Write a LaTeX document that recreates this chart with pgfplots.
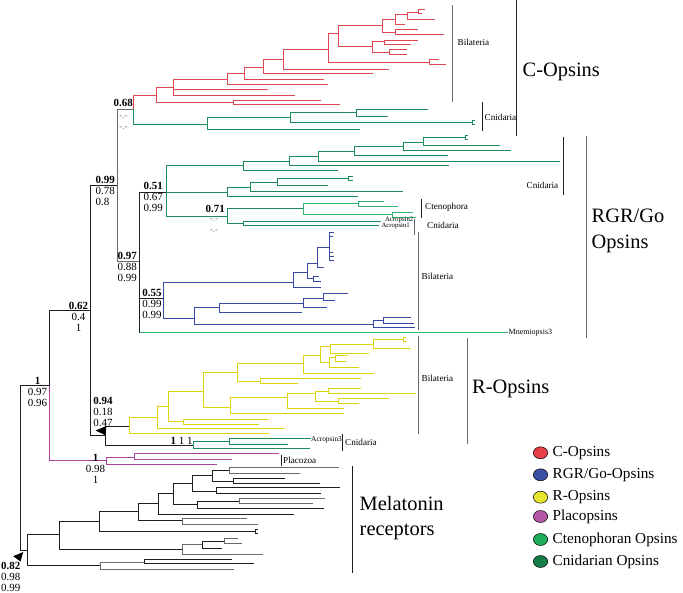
\documentclass[border=0pt]{standalone}
\usepackage{pgfplots}
\pgfplotsset{compat=1.18}
\usepackage{fontspec}
\setmainfont{Liberation Serif}
\definecolor{cR}{RGB}{222,70,80}
\definecolor{cG}{RGB}{30,140,90}
\definecolor{cC}{RGB}{50,180,115}
\definecolor{cB}{RGB}{55,72,165}
\definecolor{cY}{RGB}{222,212,10}
\definecolor{cP}{RGB}{175,65,158}
\definecolor{cK}{RGB}{30,30,30}
\definecolor{cA}{RGB}{105,105,105}
\definecolor{lR}{RGB}{232,64,72}
\definecolor{lB}{RGB}{59,80,165}
\definecolor{lY}{RGB}{230,230,46}
\definecolor{lP}{RGB}{181,87,168}
\definecolor{lC}{RGB}{30,175,90}
\definecolor{lG}{RGB}{19,125,69}
\newcommand{\fs}[2]{\fontsize{#1}{#2}\selectfont}
\pgfplotsset{
  tK/.style={draw=cK, line width=1.2bp},
  tA/.style={draw=cA, line width=1.2bp},
  tR/.style={draw=cR, line width=1.2bp},
  tG/.style={draw=cG, line width=1.2bp},
  tC/.style={draw=cC, line width=1.2bp},
  tB/.style={draw=cB, line width=1.2bp},
  tY/.style={draw=cY, line width=1.2bp},
  tP/.style={draw=cP, line width=1.2bp}}
\begin{document}
\begin{tikzpicture}
\useasboundingbox (0,0) rectangle (683bp,593bp);
\begin{axis}[at={(0,0)}, anchor=south west, scale only axis, width=683bp, height=593bp,
  xmin=-0.5, xmax=682.5, ymin=-0.5, ymax=592.5, y dir=reverse, hide axis, clip=false]
% ---------- backbone ----------
\addplot[tK] coordinates {(49,385)(20,385)(20,550)(27,550)};
\addplot[tK] coordinates {(90,310)(49,310)(49,385)};
\addplot[tP] coordinates {(49,385)(49,460)(106,460)};
\addplot[tK] coordinates {(117,185)(90,185)(90,435)(105,435)};
\addplot[tA] coordinates {(133,109)(117,109)(117,261)(139,261)};
\addplot[tR] coordinates {(156,95)(133,95)(133,109)};
\addplot[tG] coordinates {(133,109)(133,124)(207,124)};
\addplot[tK] coordinates {(166,192)(139,192)(139,332)};
\addplot[tK] coordinates {(139,298)(163,298)};
\addplot[tC] coordinates {(139,332)(507,332)};
\addplot[tK] coordinates {(129,426)(105,426)(105,445)(193,445)};
% ---------- C-opsins (red) ----------
\addplot[tR] coordinates {(173,87)(156,87)(156,102)(233,102)};
\addplot[tR] coordinates {(320,100)(233,100)(233,104)(339,104)};
\addplot[tR] coordinates {(227,79)(173,79)(173,95)(294,95)};
\addplot[tR] coordinates {(173,89)(267,89)};
\addplot[tR] coordinates {(244,73)(227,73)(227,84)(327,84)};
\addplot[tR] coordinates {(263,67)(244,67)(244,79)(323,79)};
\addplot[tR] coordinates {(283,59)(263,59)(263,73)(372,73)};
\addplot[tR] coordinates {(328,49)(283,49)(283,69)(388,69)};
\addplot[tR] coordinates {(338,33)(328,33)(328,62)(429,62)};
\addplot[tR] coordinates {(438,59)(429,59)(429,64)(445,64)};
\addplot[tR] coordinates {(382,25)(338,25)(338,46)(372,46)};
\addplot[tR] coordinates {(395,19)(382,19)(382,32)(395,32)};
\addplot[tR] coordinates {(407,14)(395,14)(395,24)(404,24)};
\addplot[tR] coordinates {(418,12)(407,12)(407,19)(434,19)};
\addplot[tR] coordinates {(424,9)(418,9)(418,13)(421,13)};
\addplot[tR] coordinates {(417,29)(395,29)(395,34)(443,34)};
\addplot[tR] coordinates {(384,41)(372,41)(372,52)(389,52)};
\addplot[tR] coordinates {(417,40)(384,40)(384,44)(410,44)};
\addplot[tR] coordinates {(406,49)(389,49)(389,54)(406,54)};
% C-opsins cnidaria (green)
\addplot[tG] coordinates {(290,117)(207,117)(207,129)(359,129)};
\addplot[tG] coordinates {(356,112)(290,112)(290,122)(472,122)};
\addplot[tG] coordinates {(427,109)(356,109)(356,116)(387,116)};
\addplot[tG] coordinates {(474,120)(472,120)(472,124)(474,124)};
% ---------- RGR/Go cnidaria (green) ----------
\addplot[tG] coordinates {(243,165)(166,165)(166,216)(227,216)};
\addplot[tG] coordinates {(166,192)(227,192)};
\addplot[tG] coordinates {(289,161)(243,161)(243,170)(337,170)};
\addplot[tG] coordinates {(318,156)(289,156)(289,165)(448,165)};
\addplot[tG] coordinates {(354,151)(318,151)(318,161)(559,161)};
\addplot[tG] coordinates {(403,146)(354,146)(354,155)(447,155)};
\addplot[tG] coordinates {(423,142)(403,142)(403,150)(510,150)};
\addplot[tG] coordinates {(465,137)(423,137)(423,145)(499,145)};
\addplot[tG] coordinates {(467,135)(465,135)(465,139)(467,139)};
\addplot[tG] coordinates {(250,187)(227,187)(227,196)(357,196)};
\addplot[tG] coordinates {(277,182)(250,182)(250,191)(402,191)};
\addplot[tG] coordinates {(348,178)(277,178)(277,185)(327,185)};
\addplot[tG] coordinates {(352,176)(348,176)(348,180)(352,180)};
\addplot[tG] coordinates {(303,208)(227,208)(227,223)(243,223)};
\addplot[tC] coordinates {(358,203)(303,203)(303,214)(392,214)};
\addplot[tC] coordinates {(383,201)(358,201)(358,206)(397,206)};
\addplot[tC] coordinates {(412,212)(392,212)(392,217)(415,217)};
\addplot[tG] coordinates {(380,221)(243,221)(243,225)(378,225)};
% ---------- RGR/Go bilateria (blue) ----------
\addplot[tB] coordinates {(293,282)(163,282)(163,318)(194,318)};
\addplot[tB] coordinates {(307,272)(293,272)(293,287)(320,287)};
\addplot[tB] coordinates {(317,263)(307,263)(307,278)(313,278)};
\addplot[tB] coordinates {(318,276)(313,276)(313,281)(320,281)};
\addplot[tB] coordinates {(329,247)(317,247)(317,267)(323,267)};
\addplot[tB] coordinates {(333,232)(329,232)(329,260)(333,260)};
\addplot[tB] coordinates {(329,236)(332,236)};
\addplot[tB] coordinates {(329,252)(332,252)};
\addplot[tB] coordinates {(329,256)(333,256)};
\addplot[tB] coordinates {(219,307)(194,307)(194,324)(373,324)};
\addplot[tB] coordinates {(383,320)(373,320)(373,327)(414,327)};
\addplot[tB] coordinates {(410,317)(383,317)(383,323)(413,323)};
\addplot[tB] coordinates {(303,303)(219,303)(219,312)(301,312)};
\addplot[tB] coordinates {(323,298)(303,298)(303,307)(326,307)};
\addplot[tB] coordinates {(347,293)(323,293)(323,300)(334,300)};
% ---------- R-opsins (yellow) ----------
\addplot[tY] coordinates {(157,417)(129,417)(129,433)(268,433)};
\addplot[tY] coordinates {(168,406)(157,406)(157,428)(283,428)};
\addplot[tY] coordinates {(203,391)(168,391)(168,421)(183,421)};
\addplot[tY] coordinates {(267,419)(183,419)(183,424)(258,424)};
\addplot[tY] coordinates {(237,372)(203,372)(203,407)(230,407)};
\addplot[tY] coordinates {(287,397)(230,397)(230,413)(343,413)};
\addplot[tY] coordinates {(315,393)(287,393)(287,408)(343,408)};
\addplot[tY] coordinates {(328,391)(315,391)(315,401)(338,401)};
\addplot[tY] coordinates {(360,388)(328,388)(328,393)(415,393)};
\addplot[tY] coordinates {(388,398)(338,398)(338,403)(358,403)};
\addplot[tY] coordinates {(303,363)(237,363)(237,381)(260,381)};
\addplot[tY] coordinates {(360,378)(260,378)(260,383)(297,383)};
\addplot[tY] coordinates {(320,355)(303,355)(303,373)(373,373)};
\addplot[tY] coordinates {(330,346)(320,346)(320,362)(329,362)};
\addplot[tY] coordinates {(373,344)(330,344)(330,353)(368,353)};
\addplot[tY] coordinates {(403,339)(373,339)(373,348)(410,348)};
\addplot[tY] coordinates {(405,337)(403,337)(403,341)(406,341)};
\addplot[tY] coordinates {(335,357)(329,357)(329,367)(358,367)};
\addplot[tY] coordinates {(347,355)(335,355)(335,361)(345,361)};
% acropsin3 cnidaria
\addplot[tG] coordinates {(229,441)(193,441)(193,448)(309,448)};
\addplot[tG] coordinates {(310,438)(229,438)(229,444)(287,444)};
% ---------- placozoa ----------
\addplot[tP] coordinates {(134,457)(106,457)(106,464)(216,464)};
\addplot[tP] coordinates {(278,453)(134,453)(134,459)(231,459)};
% ---------- melatonin receptors ----------
\addplot[tK] coordinates {(59,534)(27,534)(27,565)(100,565)};
\addplot[tK] coordinates {(99,521)(59,521)(59,549)(182,549)};
\addplot[tK] coordinates {(138,511)(99,511)(99,531)(255,531)};
\addplot[tK] coordinates {(257,529)(255,529)(255,533)(257,533)};
\addplot[tK] coordinates {(158,503)(138,503)(138,520)(182,520)};
\addplot[tA] coordinates {(246,518)(182,518)(182,524)(257,524)};
\addplot[tK] coordinates {(173,493)(158,493)(158,514)(293,514)};
\addplot[tK] coordinates {(192,483)(173,483)(173,504)(197,504)};
\addplot[tK] coordinates {(212,475)(192,475)(192,491)(216,491)};
\addplot[tK] coordinates {(339,487)(216,487)(216,493)(320,493)};
\addplot[tK] coordinates {(229,470)(212,470)(212,481)(233,481)};
\addplot[tA] coordinates {(338,467)(229,467)(229,473)(299,473)};
\addplot[tK] coordinates {(284,478)(233,478)(233,483)(319,483)};
\addplot[tK] coordinates {(239,501)(197,501)(197,508)(323,508)};
\addplot[tA] coordinates {(324,498)(239,498)(239,503)(312,503)};
\addplot[tA] coordinates {(202,544)(182,544)(182,554)(262,554)};
\addplot[tK] coordinates {(224,541)(202,541)(202,548)(221,548)};
\addplot[tA] coordinates {(237,538)(224,538)(224,543)(241,543)};
\addplot[tA] coordinates {(144,562)(100,562)(100,569)(233,569)};
\addplot[tK] coordinates {(231,559)(144,559)(144,563)(253,563)};
% ---------- triangles ----------
\addplot[fill=black, draw=none] coordinates {(95,430)(106,425.5)(104.5,434.5)};
\addplot[fill=black, draw=none] coordinates {(12.7,555.7)(22.7,551.5)(20,561)};
% ---------- clade bars ----------
\addplot[draw=cA, line width=1.3bp] coordinates {(452,5)(452,102)};
\addplot[draw=cK, line width=1.3bp] coordinates {(482,102)(482,130)};
\addplot[draw=cK, line width=1.4bp] coordinates {(516,0)(516,135)};
\addplot[draw=cK, line width=1.3bp] coordinates {(563,136)(563,194)};
\addplot[draw=cA, line width=1.4bp] coordinates {(586,135)(586,337)};
\addplot[draw=cK, line width=1.3bp] coordinates {(421,198)(421,217)};
\addplot[draw=cA, line width=1.3bp] coordinates {(414,218)(414,234)};
\addplot[draw=cA, line width=1.3bp] coordinates {(418,231)(418,329)};
\addplot[draw=cA, line width=1.4bp] coordinates {(467,337)(467,443)};
\addplot[draw=cA, line width=1.3bp] coordinates {(418,335)(418,433)};
\addplot[draw=cK, line width=1.3bp] coordinates {(342,433)(342,450)};
\addplot[draw=cK, line width=1.3bp] coordinates {(281,454)(281,465)};
\addplot[draw=cK, line width=1.3bp] coordinates {(352,465)(352,572)};
% ---------- legend markers ----------
\addplot[only marks, mark=*, mark size=6, mark options={xscale=1.2, draw=black, line width=0.5bp, fill=lR}] coordinates {(540,452.3)};
\addplot[only marks, mark=*, mark size=6, mark options={xscale=1.2, draw=black, line width=0.5bp, fill=lB}] coordinates {(540,474.3)};
\addplot[only marks, mark=*, mark size=6, mark options={xscale=1.2, draw=black, line width=0.5bp, fill=lY}] coordinates {(540,496.7)};
\addplot[only marks, mark=*, mark size=6, mark options={xscale=1.2, draw=black, line width=0.5bp, fill=lP}] coordinates {(540,516)};
\addplot[only marks, mark=*, mark size=6, mark options={xscale=1.2, draw=black, line width=0.5bp, fill=lC}] coordinates {(540,539)};
\addplot[only marks, mark=*, mark size=6, mark options={xscale=1.2, draw=black, line width=0.5bp, fill=lG}] coordinates {(540,561)};
% ---------- legend text ----------
\begin{scope}[every node/.style={anchor=west, inner sep=0, font=\fs{15.3}{16}}]
\node at (axis cs:552,452.3) {C-Opsins};
\node at (axis cs:552,474.3) {RGR/Go-Opsins};
\node at (axis cs:552,496.7) {R-Opsins};
\node at (axis cs:552,516) {Placopsins};
\node at (axis cs:552,539) {Ctenophoran Opsins};
\node at (axis cs:552,561) {Cnidarian Opsins};
\end{scope}
% ---------- big clade labels ----------
\begin{scope}[every node/.style={anchor=base west, inner sep=0, font=\fs{20.5}{22}}]
\node at (axis cs:522,76) {C-Opsins};
\node at (axis cs:591,221.7) {RGR/Go};
\node at (axis cs:591,247.5) {Opsins};
\node at (axis cs:471.5,393) {R-Opsins};
\node at (axis cs:359,509.5) {Melatonin};
\node at (axis cs:359,534.5) {receptors};
\end{scope}
% ---------- small clade labels ----------
\begin{scope}[every node/.style={anchor=west, inner sep=0, font=\fs{9.2}{10}}]
\node at (axis cs:457,42) {Bilateria};
\node at (axis cs:484,117) {Cnidaria};
\node at (axis cs:526,185) {Cnidaria};
\node at (axis cs:424.5,207) {Ctenophora};
\node at (axis cs:426.5,225) {Cnidaria};
\node at (axis cs:421,276) {Bilateria};
\node at (axis cs:421,378) {Bilateria};
\node at (axis cs:344.5,442) {Cnidaria};
\node at (axis cs:282.5,459.5) {Placozoa};
\end{scope}
\node[anchor=west, inner sep=0, font=\fs{8}{9}] at (axis cs:508,332) {Mnemiopsis3};
\node[anchor=west, inner sep=0, font=\fs{7.4}{8}] at (axis cs:310.5,439) {Acropsin3};
\node[anchor=east, inner sep=0, font=\fs{6.8}{7}] at (axis cs:413,219.3) {Acropsin2};
\node[anchor=east, inner sep=0, font=\fs{6.8}{7}] at (axis cs:409.5,225.8) {Acropsin1};
% ---------- support values ----------
\begin{scope}[every node/.style={inner sep=0, font=\fs{11}{11}}]
\node[anchor=north west] at (axis cs:113,99) {\textbf{0.68}};
\node[anchor=north west, align=left] at (axis cs:95,176) {\textbf{0.99}\\0.78\\0.8};
\node[anchor=north west, align=left] at (axis cs:143,181.7) {\textbf{0.51}\\0.67\\0.99};
\node[anchor=north west] at (axis cs:205,205) {\textbf{0.71}};
\node[anchor=north west, align=left] at (axis cs:117,251.7) {\textbf{0.97}\\0.88\\0.99};
\node[anchor=north west, align=left] at (axis cs:141.7,288.3) {\textbf{0.55}\\0.99\\0.99};
\node[anchor=north, align=center] at (axis cs:78,301.7) {\textbf{0.62}\\0.4\\1};
\node[anchor=north, align=center] at (axis cs:37,376.7) {\textbf{1}\\0.97\\0.96};
\node[anchor=north west, align=left] at (axis cs:92.7,396.7) {\textbf{0.94}\\0.18\\0.47};
\node[anchor=west] at (axis cs:170,440) {\textbf{1} 1 1};
\node[anchor=north, align=center] at (axis cs:95,454) {\textbf{1}\\0.98\\1};
\node[anchor=north west, align=left] at (axis cs:0.5,561.7) {\textbf{0.82}\\0.98\\0.99};
\end{scope}
\begin{scope}[every node/.style={inner sep=0, font=\fs{9}{9}, text=cA}]
\node at (axis cs:123,117) {-.-};
\node at (axis cs:123,128) {-.-};
\node at (axis cs:213.5,220) {-.-};
\node at (axis cs:213.5,231) {-.-};
\end{scope}
\end{axis}
\end{tikzpicture}
\end{document}
